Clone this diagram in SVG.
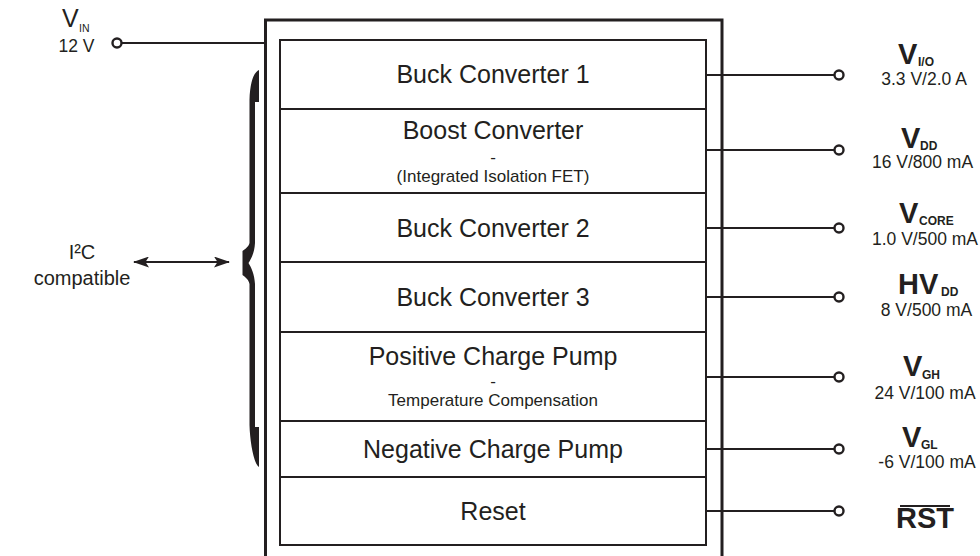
<svg xmlns="http://www.w3.org/2000/svg" width="980" height="556" viewBox="0 0 980 556">
  <style>
    .t { font-family: "Liberation Sans", Arial, sans-serif; fill: #231f20; }
    .lbl { font-size: 25px; text-anchor: middle; }
    .sm { font-size: 17px; text-anchor: middle; }
    .val { font-size: 17.5px; text-anchor: middle; }
    .big { font-size: 29px; font-weight: bold; }
    .sub { font-size: 12px; font-weight: bold; }
    .box { fill: #fff; stroke: #231f20; stroke-width: 2; }
    .wire { stroke: #231f20; stroke-width: 2.2; fill: none; }
    .pin { fill: #fff; stroke: #231f20; stroke-width: 2.4; }
  </style>
  <defs>
    <marker id="ah" viewBox="0 0 16 11" refX="15" refY="5.5" markerWidth="16" markerHeight="11" markerUnits="userSpaceOnUse" orient="auto-start-reverse">
      <path d="M0,0 L16,5.5 L0,11 L3.5,5.5 Z" fill="#231f20"/>
    </marker>
  </defs>
  <rect width="980" height="556" fill="#fff"/>

  <g id="chip">
    <rect x="265.5" y="20" width="456.5" height="560" fill="#fff" stroke="#231f20" stroke-width="3"/>
  </g>

  <g id="connectors">
    <line class="wire" x1="121.5" y1="43" x2="265" y2="43"/>
    <line class="wire" x1="706" y1="75" x2="834.5" y2="75"/>
    <line class="wire" x1="706" y1="150" x2="834.5" y2="150"/>
    <line class="wire" x1="706" y1="228" x2="834.5" y2="228"/>
    <line class="wire" x1="706" y1="297" x2="834.5" y2="297"/>
    <line class="wire" x1="706" y1="377" x2="834.5" y2="377"/>
    <line class="wire" x1="706" y1="449" x2="834.5" y2="449"/>
    <line class="wire" x1="706" y1="511" x2="834.5" y2="511"/>
    <line stroke="#231f20" stroke-width="2" x1="134" y1="262" x2="229" y2="262" marker-start="url(#ah)" marker-end="url(#ah)"/>
    <path id="brace" fill="#231f20" d="M259 70 C254 72 250 82 249.5 100 L249.5 243 C248.5 247 245 249 242.5 251 L242.5 275 C245 277 248.5 279 249.5 284 L249.5 425 C250 443 254 464 259 467 L259 427 L255 427 L255 284 C254.5 274 251 267 248.5 263 C251 259 254.5 253 255 243 L255 102 L259 102 Z"/>
  </g>

  <g id="buck1"><rect class="box" x="280" y="40" width="426" height="69"/><text class="t lbl" x="493" y="83">Buck Converter 1</text></g>
  <g id="boost"><rect class="box" x="280" y="109" width="426" height="84"/><text class="t lbl" x="493" y="139">Boost Converter</text><text class="t sm" x="493" y="163">-</text><text class="t sm" x="493" y="182">(Integrated Isolation FET)</text></g>
  <g id="buck2"><rect class="box" x="280" y="193" width="426" height="69"/><text class="t lbl" x="493" y="237">Buck Converter 2</text></g>
  <g id="buck3"><rect class="box" x="280" y="262" width="426" height="70"/><text class="t lbl" x="493" y="306">Buck Converter 3</text></g>
  <g id="poscp"><rect class="box" x="280" y="332" width="426" height="89"/><text class="t lbl" x="493" y="365">Positive Charge Pump</text><text class="t sm" x="493" y="387">-</text><text class="t sm" x="493" y="406">Temperature Compensation</text></g>
  <g id="negcp"><rect class="box" x="280" y="421" width="426" height="56"/><text class="t lbl" x="493" y="458">Negative Charge Pump</text></g>
  <g id="reset"><rect class="box" x="280" y="477" width="426" height="68"/><text class="t lbl" x="493" y="520">Reset</text></g>

  <g id="vin">
    <circle class="pin" cx="117" cy="43" r="4.5"/>
    <text class="t" x="62" y="27" font-size="25">V<tspan x="79" y="32" font-size="10.5">IN</tspan></text>
    <text class="t val" x="76.5" y="52">12 V</text>
  </g>

  <g id="i2c">
    <text class="t" x="82" y="259" font-size="20" text-anchor="middle">I²C</text>
    <text class="t" x="82" y="285" font-size="20" text-anchor="middle">compatible</text>
  </g>

  <g id="vio"><circle class="pin" cx="839" cy="75" r="4.5"/><text class="t big" x="898" y="64">V<tspan class="sub" x="918" y="66">I/O</tspan></text><text class="t val" x="924" y="85">3.3 V/2.0 A</text></g>
  <g id="vdd"><circle class="pin" cx="839" cy="150" r="4.5"/><text class="t big" x="901" y="148">V<tspan class="sub" x="920" y="150">DD</tspan></text><text class="t val" x="922.5" y="168">16 V/800 mA</text></g>
  <g id="vcore"><circle class="pin" cx="839" cy="228" r="4.5"/><text class="t big" x="899" y="223">V<tspan class="sub" x="919" y="225">CORE</tspan></text><text class="t val" x="925" y="245">1.0 V/500 mA</text></g>
  <g id="hvdd"><circle class="pin" cx="839" cy="297" r="4.5"/><text class="t big" x="898" y="294" font-size="25">HV<tspan class="sub" x="941" y="296">DD</tspan></text><text class="t val" x="926.5" y="316">8 V/500 mA</text></g>
  <g id="vgh"><circle class="pin" cx="839" cy="377" r="4.5"/><text class="t big" x="903" y="376">V<tspan class="sub" x="922" y="379">GH</tspan></text><text class="t val" x="925" y="399">24 V/100 mA</text></g>
  <g id="vgl"><circle class="pin" cx="839" cy="449" r="4.5"/><text class="t big" x="902" y="447">V<tspan class="sub" x="921" y="449">GL</tspan></text><text class="t val" x="927" y="468">-6 V/100 mA</text></g>
  <g id="rst"><circle class="pin" cx="839" cy="511" r="4.5"/><text class="t big" x="925" y="528" font-size="25" text-anchor="middle">RST</text><line x1="900" y1="506" x2="950" y2="506" stroke="#231f20" stroke-width="2"/></g>
</svg>
